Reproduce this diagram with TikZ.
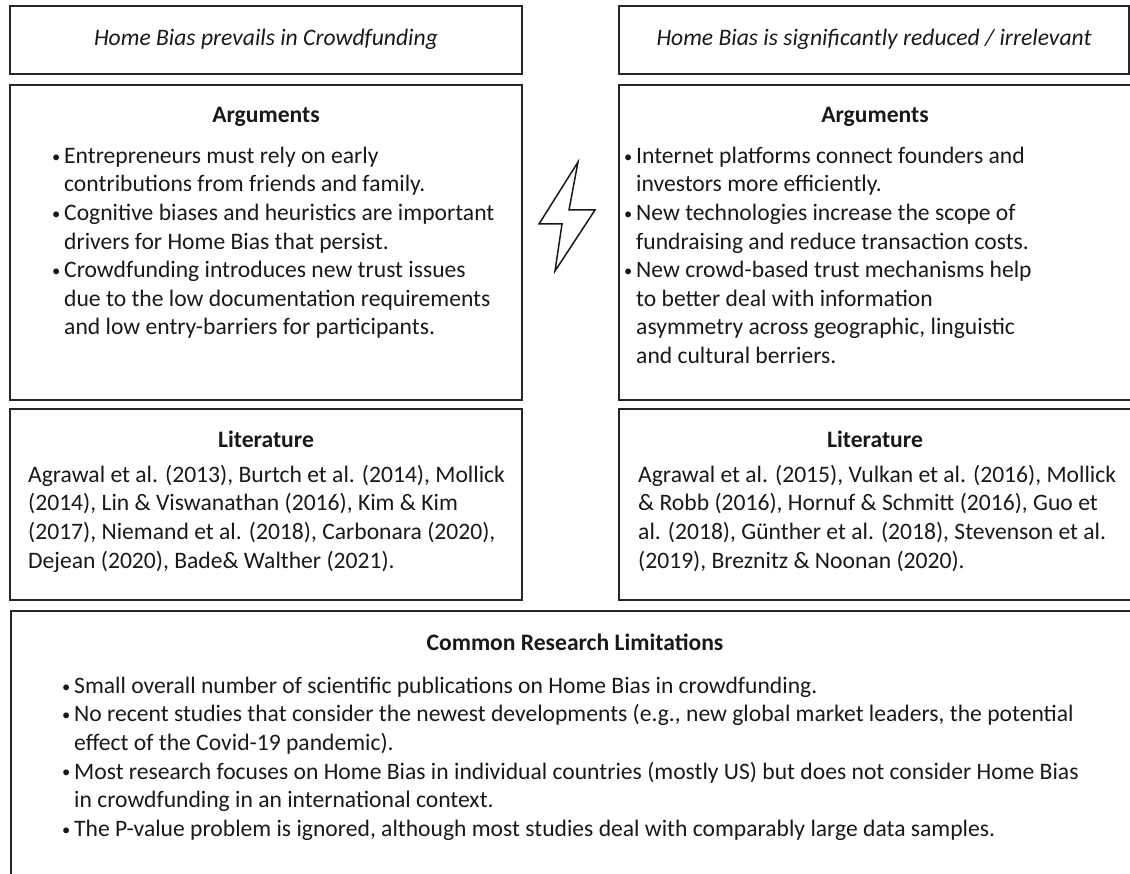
\documentclass[tikz,border=0pt]{standalone}
\usepackage{fontspec}
\setmainfont{Carlito}
\usepackage{tikz}
\usetikzlibrary{calc}

\newcommand\txtfont{\fontsize{23.6}{28.6}\selectfont}
\newcommand\bul{\makebox[12pt][l]{\raisebox{0.1ex}{\scalebox{0.7}{\textbullet}}}}
\newcommand\ind{\hspace*{12pt}}

\tikzset{
  box/.style={draw=black!85, line width=1.6pt},
  headtxt/.style={font=\txtfont\itshape, text=black!90, anchor=base, inner sep=0pt},
  titletxt/.style={font=\txtfont\bfseries, text=black!90, anchor=base, inner sep=0pt},
  bodytxt/.style={font=\txtfont, text=black!90, align=left, anchor=north west, inner sep=0pt},
}

\begin{document}
\begin{tikzpicture}[x=1pt, y=-1pt]
\useasboundingbox (0,0) rectangle (1130,874);

% left column
\draw[box] (10,6) rectangle (522,74);
\draw[box] (10,85) rectangle (522,400);
\draw[box] (10,409) rectangle (522,600);

% right column (runs off the page)
\draw[box] (619,6) rectangle (1129,74);
\draw[box] (619,85) rectangle (1134,400);
\draw[box] (619,409) rectangle (1134,600);

% bottom box
\draw[box] (11,611) rectangle (1137,882);

% headers
\node[headtxt] (hdL) at (266,46) {Home Bias prevails in Crowdfunding};
\node[headtxt] (hdR) at (874,46) {Home Bias is significantly reduced / irrelevant};

% arguments
\node[titletxt] (argL) at (266,123) {Arguments};
\node[bodytxt] (argLtxt) at (52,143) {\strut\bul Entrepreneurs must rely on early\\
\ind contributions from friends and family.\\
\bul Cognitive biases and heuristics are important\\
\ind drivers for Home Bias that persist.\\
\bul Crowdfunding introduces new trust issues\\
\ind due to the low documentation requirements\\
\ind and low entry-barriers for participants.};

\node[titletxt] (argR) at (875,123) {Arguments};
\node[bodytxt] (argRtxt) at (624,143) {\strut\bul Internet platforms connect founders and\\
\ind investors more efficiently.\\
\bul New technologies increase the scope of\\
\ind fundraising and reduce transaction costs.\\
\bul New crowd-based trust mechanisms help\\
\ind to better deal with information\\
\ind asymmetry across geographic, linguistic\\
\ind and cultural berriers.};

% the clash between both views
\draw[line width=1.5pt, black!90, line join=miter] (578,162) -- (539,224) -- (562,224) -- (555,271) -- (595,210) -- (569,210) -- cycle;

% literature
\node[titletxt] (litL) at (266,447) {Literature};
\node[bodytxt] (litLtxt) at (28,462) {\strut Agrawal et al. (2013), Burtch et al. (2014), Mollick\\
(2014), Lin \& Viswanathan (2016), Kim \& Kim\\
(2017), Niemand et al. (2018), Carbonara (2020),\\
Dejean (2020), Bade\& Walther (2021).};

\node[titletxt] (litR) at (875,447) {Literature};
\node[bodytxt] (litRtxt) at (638,462) {\strut Agrawal et al. (2015), Vulkan et al. (2016), Mollick\\
\& Robb (2016), Hornuf \& Schmitt (2016), Guo et\\
al. (2018), Günther et al. (2018), Stevenson et al.\\
(2019), Breznitz \& Noonan (2020).};

% limitations
\node[titletxt] (lim) at (575,650) {Common Research Limitations};
\node[bodytxt] (limtxt) at (62,673) {\strut\bul Small overall number of scientific publications on Home Bias in crowdfunding.\\
\bul No recent studies that consider the newest developments (e.g., new global market leaders, the potential\\
\ind effect of the Covid-19 pandemic).\\
\bul Most research focuses on Home Bias in individual countries (mostly US) but does not consider Home Bias\\
\ind in crowdfunding in an international context.\\
\bul The P-value problem is ignored, although most studies deal with comparably large data samples.};

\end{tikzpicture}
\end{document}
